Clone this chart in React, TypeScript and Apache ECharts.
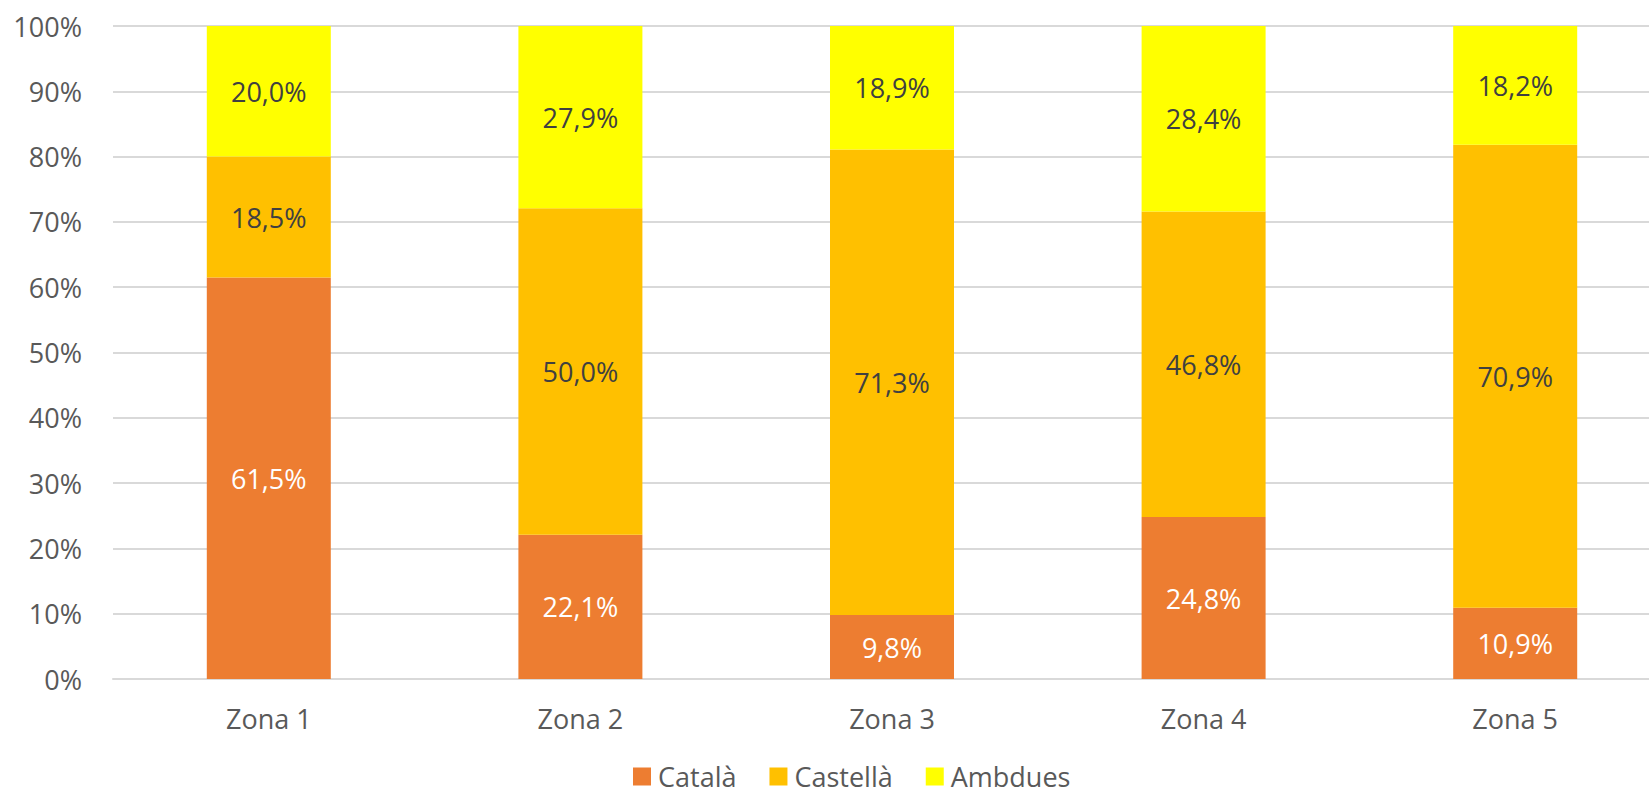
import React, { useEffect, useRef } from "react";
import * as echarts from "echarts";

const categories = ["Zona 1", "Zona 2", "Zona 3", "Zona 4", "Zona 5"];
const catala = [61.5, 22.1, 9.8, 24.8, 10.9];
const castella = [18.5, 50.0, 71.3, 46.8, 70.9];
const ambdues = [20.0, 27.9, 18.9, 28.4, 18.2];
const seriesNames = ["Català", "Castellà", "Ambdues"];
const seriesColors = ["#ED7D31", "#FFC000", "#FFFF00"];
const labelColors = ["#FFFFFF", "#404040", "#404040"];

const FONT = "'Open Sans', 'Noto Sans', sans-serif";

export default function App() {
  const ref = useRef<HTMLDivElement>(null);
  useEffect(() => {
    if (!ref.current) return;
    const chart = echarts.init(ref.current, null, { renderer: "svg" });
    const datas = [catala, castella, ambdues];
    chart.setOption({
      animation: false,
      textStyle: { fontFamily: FONT },
      grid: { left: 113, top: 26, width: 1558, bottom: 115, containLabel: false },
      legend: {
        data: seriesNames,
        left: 628,
        top: 758,
        icon: "rect",
        itemWidth: 18,
        itemHeight: 18,
        itemGap: 33,
        textStyle: { fontSize: 27, color: "#595959", fontFamily: FONT, padding: [0, 0, 0, 2] },
      },
      xAxis: {
        type: "category",
        data: categories,
        axisLine: { show: true, lineStyle: { color: "#D9D9D9", width: 2 } },
        axisTick: { show: false },
        axisLabel: { fontSize: 27, color: "#595959", margin: 26, fontFamily: FONT },
      },
      yAxis: {
        type: "value",
        min: 0,
        max: 100,
        interval: 10,
        axisLine: { show: false },
        axisTick: { show: false },
        splitLine: { lineStyle: { color: "#D9D9D9", width: 2 } },
        axisLabel: { fontSize: 27, color: "#595959", margin: 31, formatter: "{value}%", fontFamily: FONT },
      },
      series: seriesNames.map((name, i) => ({
        name,
        type: "bar",
        stack: "total",
        barWidth: 124,
        data: datas[i],
        itemStyle: { color: seriesColors[i] },
        label: {
          show: true,
          position: "inside",
          fontSize: 27,
          color: labelColors[i],
          fontFamily: FONT,
          formatter: (p: any) => p.value.toFixed(1).replace(".", ",") + "%",
        },
      })),
    });
    return () => chart.dispose();
  }, []);
  return (
    <div
      style={{ position: "fixed", left: 0, top: 0, width: 1649, height: 794, overflow: "hidden", background: "#fff" }}
    >
      <div ref={ref} style={{ width: 1700, height: 794 }} />
    </div>
  );
}
